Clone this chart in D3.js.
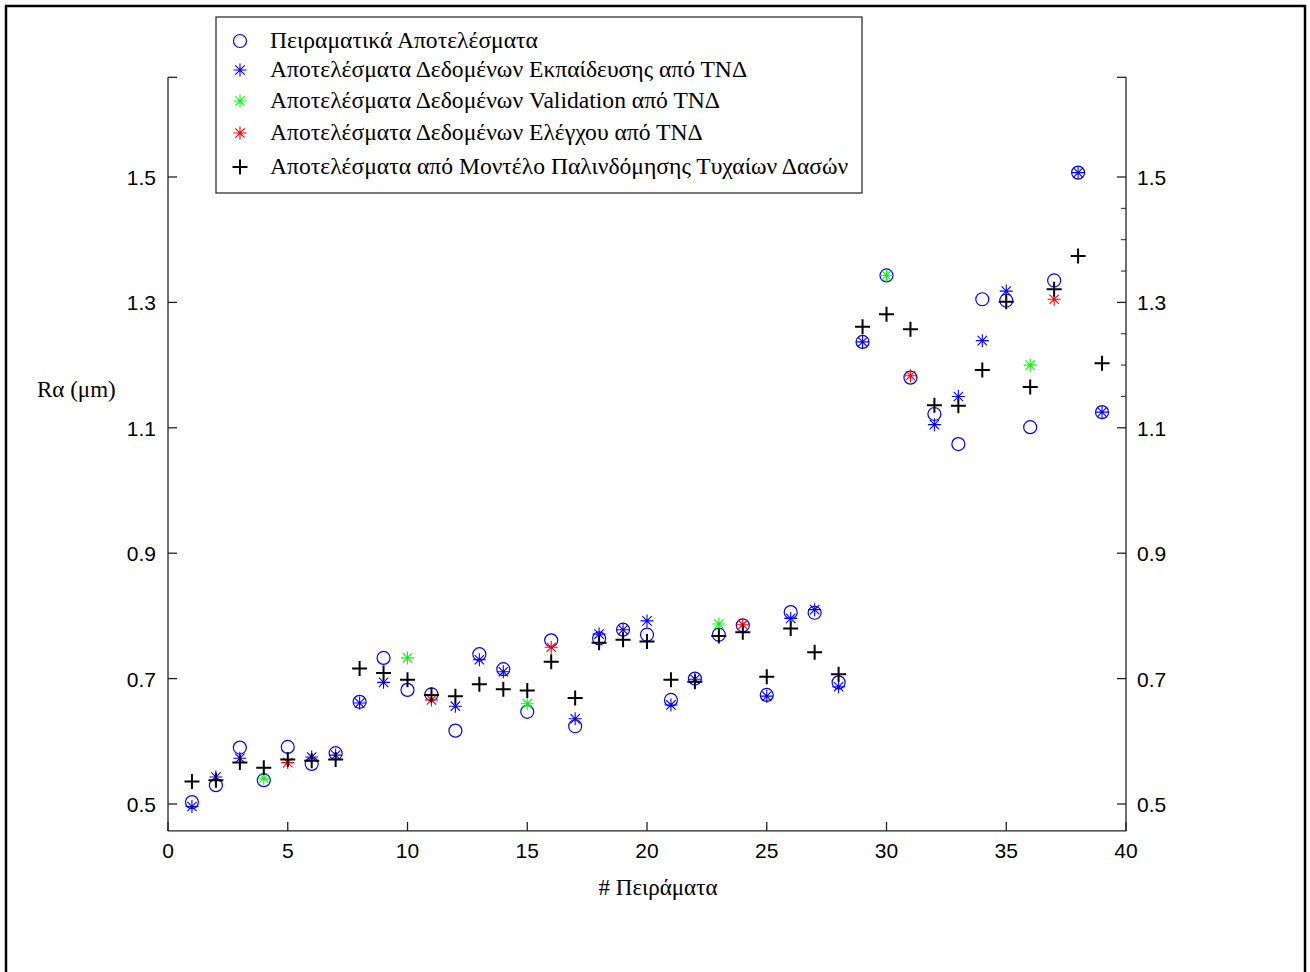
<!DOCTYPE html>
<html>
<head>
<meta charset="utf-8">
<script src="https://cdn.jsdelivr.net/npm/d3@7"></script>
<style>
  html, body { margin: 0; padding: 0; background: #fff; }
  svg { display: block; }
</style>
</head>
<body>
<svg id="chart" width="1310" height="972"></svg>
<script>
// Experiment numbers 1..39
const experiments = [1,2,3,4,5,6,7,8,9,10,11,12,13,14,15,16,17,18,19,20,
  21,22,23,24,25,26,27,28,29,30,31,32,33,34,35,36,37,38,39];

// Measured surface roughness Ra (μm)
const measured = [0.503,0.530,0.590,0.538,0.591,0.564,0.581,0.663,0.733,0.682,
  0.675,0.617,0.739,0.715,0.647,0.761,0.624,0.764,0.778,0.770,
  0.666,0.700,0.770,0.785,0.674,0.806,0.805,0.694,1.237,1.343,
  1.180,1.122,1.074,1.305,1.303,1.101,1.335,1.507,1.125];

// Neural-network predictions and the data subset each one belongs to
const annPredicted = [0.496,0.543,0.573,0.541,0.566,0.575,0.578,0.661,0.694,0.733,
  0.666,0.656,0.730,0.711,0.660,0.750,0.636,0.771,0.778,0.792,
  0.658,0.699,0.787,0.786,0.672,0.796,0.810,0.687,1.237,1.343,
  1.183,1.105,1.150,1.239,1.318,1.200,1.305,1.507,1.125];
const annSubset = ["train","train","train","val","test","train","train","train","train","val",
  "test","train","train","train","val","test","train","train","train","train",
  "train","train","val","test","train","train","train","train","train","val",
  "test","train","train","train","train","val","test","train","train"];

// Random forest regression predictions
const rfPredicted = [0.536,0.538,0.566,0.558,0.571,0.569,0.571,0.716,0.709,0.698,
  0.674,0.672,0.691,0.683,0.681,0.727,0.669,0.757,0.762,0.759,
  0.698,0.695,0.768,0.774,0.703,0.780,0.742,0.707,1.261,1.281,
  1.257,1.136,1.135,1.192,1.301,1.165,1.321,1.374,1.203];

const xTicks = [0,5,10,15,20,25,30,35,40];
const yTicks = [0.5,0.7,0.9,1.1,1.3,1.5];
const yMinorTicks = [1.15,1.2,1.25,1.35,1.4,1.45];
const xLimits = [0, 40];
const yLimits = [0.457, 1.659];

const legendLabels = [
  "Πειραματικά Αποτελέσματα",
  "Αποτελέσματα Δεδομένων Εκπαίδευσης από ΤΝΔ",
  "Αποτελέσματα Δεδομένων Validation από ΤΝΔ",
  "Αποτελέσματα Δεδομένων Ελέγχου από ΤΝΔ",
  "Αποτελέσματα από Μοντέλο Παλινδόμησης Τυχαίων Δασών"
];
const subsetColor = { train: "#0000ff", val: "#00ff00", test: "#ff0000" };

const svg = d3.select("#chart");
const plotLeft = 168, plotRight = 1126;

const x = d3.scaleLinear().domain(xLimits).range([plotLeft, plotRight]);
// 0.5 → 804, 1.5 → 177
const y = d3.scaleLinear().domain([0.5, 1.5]).range([804, 177]);
const plotTop = y(yLimits[1]), plotBottom = y(yLimits[0]);

// outer frame
svg.append("rect").attr("x", 6).attr("y", 6).attr("width", 1299).attr("height", 1000)
  .attr("fill", "none").attr("stroke", "#000").attr("stroke-width", 2.5);

const sans = "'Liberation Sans', Arial, sans-serif";
const serif = "'Liberation Serif', 'Times New Roman', serif";

// axes
const axisG = svg.append("g").attr("stroke", "#222").attr("stroke-width", 1.3).attr("fill", "none");
axisG.append("line").attr("x1", plotLeft).attr("x2", plotLeft).attr("y1", plotTop).attr("y2", plotBottom);
axisG.append("line").attr("x1", plotRight).attr("x2", plotRight).attr("y1", plotTop).attr("y2", plotBottom);
axisG.append("line").attr("x1", plotLeft).attr("x2", plotRight).attr("y1", plotBottom).attr("y2", plotBottom);
// caps at the top of the vertical axes
axisG.append("line").attr("x1", plotLeft).attr("x2", plotLeft + 9).attr("y1", plotTop).attr("y2", plotTop);
axisG.append("line").attr("x1", plotRight - 9).attr("x2", plotRight).attr("y1", plotTop).attr("y2", plotTop);

const tickLen = 9;
yTicks.forEach(v => {
  axisG.append("line").attr("x1", plotLeft).attr("x2", plotLeft + tickLen).attr("y1", y(v)).attr("y2", y(v));
  axisG.append("line").attr("x1", plotRight - tickLen).attr("x2", plotRight).attr("y1", y(v)).attr("y2", y(v));
});
yMinorTicks.forEach(v => {
  axisG.append("line").attr("x1", plotRight - 5).attr("x2", plotRight).attr("y1", y(v)).attr("y2", y(v))
    .attr("stroke-width", 1);
});
xTicks.forEach(v => {
  axisG.append("line").attr("x1", x(v)).attr("x2", x(v)).attr("y1", plotBottom).attr("y2", plotBottom - tickLen);
});

const labelG = svg.append("g").attr("font-family", sans).attr("font-size", 21).attr("fill", "#000");
yTicks.forEach(v => {
  labelG.append("text").attr("x", 156).attr("y", y(v) + 8).attr("text-anchor", "end").text(d3.format(".1f")(v));
  labelG.append("text").attr("x", 1137).attr("y", y(v) + 8).attr("text-anchor", "start").text(d3.format(".1f")(v));
});
xTicks.forEach(v => {
  labelG.append("text").attr("x", x(v)).attr("y", 858).attr("text-anchor", "middle").text(v);
});

// axis titles
svg.append("text").attr("x", 37).attr("y", 397).attr("font-family", serif).attr("font-size", 23)
  .text("Rα (μm)");
svg.append("text").attr("x", 658).attr("y", 895).attr("text-anchor", "middle")
  .attr("font-family", serif).attr("font-size", 23).text("# Πειράματα");

// marker shapes
function circleMarker(g, cx, cy) {
  g.append("circle").attr("cx", cx).attr("cy", cy).attr("r", 6.5)
    .attr("fill", "none").attr("stroke", "#0000ff").attr("stroke-width", 1.2);
}
function asteriskMarker(g, cx, cy, color) {
  const r = 6.5, d = r * 0.72;
  const p = `M${cx - r},${cy}L${cx + r},${cy}M${cx},${cy - r}L${cx},${cy + r}` +
            `M${cx - d},${cy - d}L${cx + d},${cy + d}M${cx - d},${cy + d}L${cx + d},${cy - d}`;
  g.append("path").attr("d", p).attr("stroke", color).attr("stroke-width", 1.1).attr("fill", "none");
}
function plusMarker(g, cx, cy) {
  const r = 7.5;
  g.append("path").attr("d", `M${cx - r},${cy}L${cx + r},${cy}M${cx},${cy - r}L${cx},${cy + r}`)
    .attr("stroke", "#000").attr("stroke-width", 2).attr("fill", "none");
}

const marks = svg.append("g");
experiments.forEach((e, i) => circleMarker(marks, x(e), y(measured[i])));
["train", "val", "test"].forEach(s => {
  experiments.forEach((e, i) => {
    if (annSubset[i] === s) asteriskMarker(marks, x(e), y(annPredicted[i]), subsetColor[s]);
  });
});
experiments.forEach((e, i) => plusMarker(marks, x(e), y(rfPredicted[i])));

// legend
const lg = svg.append("g");
lg.append("rect").attr("x", 216).attr("y", 17).attr("width", 646).attr("height", 176)
  .attr("fill", "#fff").attr("stroke", "#333").attr("stroke-width", 1.3);
const rowY = [41, 70, 101, 133, 167];
legendLabels.forEach((t, i) => {
  const cy = rowY[i];
  if (i === 0) circleMarker(lg, 240, cy);
  else if (i === 1) asteriskMarker(lg, 240, cy, subsetColor.train);
  else if (i === 2) asteriskMarker(lg, 240, cy, subsetColor.val);
  else if (i === 3) asteriskMarker(lg, 240, cy, subsetColor.test);
  else plusMarker(lg, 240, cy);
  lg.append("text").attr("x", 270).attr("y", cy + 7).attr("font-family", serif).attr("font-size", 23.6)
    .attr("fill", "#000").text(t);
});
</script>
</body>
</html>
